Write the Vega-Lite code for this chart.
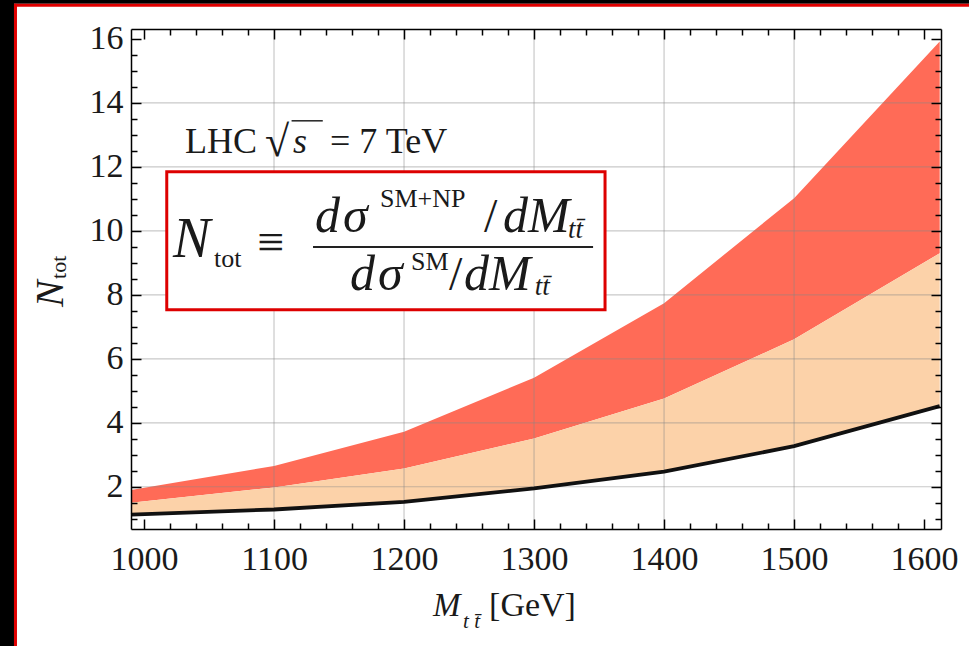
{
  "$schema": "https://vega.github.io/schema/vega-lite/v6.json",
  "width": 810,
  "height": 500,
  "autosize": {"type": "none"},
  "padding": {"left": 131, "top": 29, "right": 28, "bottom": 117},
  "background": "#ffffff",
  "config": {"view": {"stroke": null}, "font": "Liberation Serif"},
  "resolve": {"axis": {"x": "independent", "y": "independent"}},
  "datasets": {
    "curves": [
      {"M": 990, "sm": 1.13, "lo": 1.50, "hi": 1.90},
      {"M": 1100, "sm": 1.29, "lo": 1.98, "hi": 2.65},
      {"M": 1200, "sm": 1.53, "lo": 2.57, "hi": 3.72},
      {"M": 1300, "sm": 1.95, "lo": 3.51, "hi": 5.41},
      {"M": 1400, "sm": 2.47, "lo": 4.76, "hi": 7.74},
      {"M": 1500, "sm": 3.27, "lo": 6.61, "hi": 11.02},
      {"M": 1612, "sm": 4.52, "lo": 9.30, "hi": 15.92}
    ],
    "vgrid": [{"g": 1100}, {"g": 1200}, {"g": 1300}, {"g": 1400}, {"g": 1500}],
    "hgrid": [{"g": 2}, {"g": 4}, {"g": 6}, {"g": 8}, {"g": 10}, {"g": 12}, {"g": 14}],
    "fN": [{"t": "N", "x": 1022.3, "y": 9.185}],
    "fItalic": [
      {"t": "d", "x": 1131.5, "y": 9.977},
      {"t": "σ", "x": 1153.1, "y": 9.977},
      {"t": "dM", "x": 1276.2, "y": 9.977},
      {"t": "d", "x": 1158.5, "y": 8.153},
      {"t": "σ", "x": 1180.0, "y": 8.153},
      {"t": "dM", "x": 1246.2, "y": 8.153}
    ],
    "fUpright": [
      {"t": "≡", "x": 1086.9, "y": 9.154},
      {"t": "/", "x": 1261.5, "y": 9.977},
      {"t": "/", "x": 1234.6, "y": 8.153}
    ],
    "fSmall": [
      {"t": "tot", "x": 1053.8, "y": 8.873},
      {"t": "SM+NP", "x": 1181.5, "y": 10.759},
      {"t": "SM", "x": 1205.3, "y": 8.779}
    ],
    "fSmallItalic": [
      {"t": "tt̄", "x": 1326.2, "y": 9.78},
      {"t": "tt̄", "x": 1300.5, "y": 7.997}
    ],
    "lhc": [
      {"t": "LHC", "x": 1031.5, "y": 12.44},
      {"t": "= 7 TeV", "x": 1143.1, "y": 12.44}
    ],
    "lhcRoot": [{"t": "√", "x": 1093.1, "y": 12.35}],
    "lhcItalic": [{"t": "s", "x": 1114.6, "y": 12.44}],
    "xTitleItalic": [{"t": "M", "x": 1222.3, "y": -2.047}],
    "xTitleUpright": [{"t": "[GeV]", "x": 1265.4, "y": -2.047}],
    "xTitleSub": [{"t": "t t̄", "x": 1245.4, "y": -2.423}],
    "yTitleBig": [{"t": "N", "x": 937.7, "y": 7.621}],
    "yTitleSub": [{"t": "tot", "x": 940, "y": 8.496}]
  },
  "layer": [
    {
      "data": {"values": [{}]},
      "mark": {"type": "rect", "fill": "#000000"},
      "encoding": {
        "x": {"datum": 800, "type": "quantitative", "scale": {"domain": [990, 1613], "nice": false, "zero": false}, "axis": null},
        "x2": {"datum": 900},
        "y": {"datum": 20, "type": "quantitative", "scale": {"domain": [0.68, 16.31], "nice": false, "zero": false}, "axis": null},
        "y2": {"datum": -6}
      }
    },
    {
      "data": {"values": [{}]},
      "mark": {"type": "rect", "fill": "#000000"},
      "encoding": {
        "x": {"datum": 800, "type": "quantitative", "axis": null},
        "x2": {"datum": 1700},
        "y": {"datum": 20, "type": "quantitative", "axis": null},
        "y2": {"datum": 17.1016}
      }
    },
    {
      "data": {"values": [{}]},
      "mark": {"type": "rule", "color": "#e00000", "strokeWidth": 3},
      "encoding": {
        "x": {"datum": 901.15, "type": "quantitative", "axis": null},
        "y": {"datum": 17.1016, "type": "quantitative", "axis": null},
        "y2": {"datum": -6}
      }
    },
    {
      "data": {"values": [{}]},
      "mark": {"type": "rule", "color": "#e00000", "strokeWidth": 3},
      "encoding": {
        "x": {"datum": 900, "type": "quantitative", "axis": null},
        "x2": {"datum": 1700},
        "y": {"datum": 17.055, "type": "quantitative", "axis": null}
      }
    },
    {
      "data": {"name": "curves"},
      "mark": {"type": "area", "color": "#FF6B57"},
      "encoding": {
        "x": {"field": "M", "type": "quantitative", "scale": {"domain": [990, 1613], "nice": false, "zero": false},
          "axis": {"orient": "bottom", "values": [1000, 1100, 1200, 1300, 1400, 1500, 1600], "format": "d", "tickSize": -10, "tickWidth": 1.5, "tickColor": "#000", "domainColor": "#000", "domainWidth": 1.5, "labelFont": "Liberation Serif", "labelFontSize": 34, "labelColor": "#1a1a1a", "labelPadding": 23, "labelFlush": false, "labelOverlap": false, "grid": false, "title": null, "zindex": 1}},
        "y": {"field": "hi", "type": "quantitative", "scale": {"domain": [0.68, 16.31], "nice": false, "zero": false},
          "axis": {"orient": "left", "values": [2, 4, 6, 8, 10, 12, 14, 16], "format": "d", "tickSize": -10, "tickWidth": 1.5, "tickColor": "#000", "domainColor": "#000", "domainWidth": 1.5, "labelFont": "Liberation Serif", "labelFontSize": 34, "labelColor": "#1a1a1a", "labelPadding": 18, "labelFlush": false, "labelOverlap": false, "grid": false, "title": null, "zindex": 1}},
        "y2": {"field": "lo"}
      }
    },
    {
      "data": {"name": "curves"},
      "mark": {"type": "area", "color": "#FCD2A9"},
      "encoding": {
        "x": {"field": "M", "type": "quantitative", "scale": {"domain": [990, 1613], "nice": false, "zero": false},
          "axis": {"orient": "bottom", "values": [1020, 1040, 1060, 1080, 1120, 1140, 1160, 1180, 1220, 1240, 1260, 1280, 1320, 1340, 1360, 1380, 1420, 1440, 1460, 1480, 1520, 1540, 1560, 1580], "tickSize": -6, "tickWidth": 1.5, "tickColor": "#000", "domain": false, "labels": false, "grid": false, "title": null, "zindex": 1}},
        "y": {"field": "lo", "type": "quantitative", "scale": {"domain": [0.68, 16.31], "nice": false, "zero": false},
          "axis": {"orient": "left", "values": [1, 1.5, 2.5, 3, 3.5, 4.5, 5, 5.5, 6.5, 7, 7.5, 8.5, 9, 9.5, 10.5, 11, 11.5, 12.5, 13, 13.5, 14.5, 15, 15.5], "tickSize": -6, "tickWidth": 1.5, "tickColor": "#000", "domain": false, "labels": false, "grid": false, "title": null, "zindex": 1}},
        "y2": {"field": "sm"}
      }
    },
    {
      "data": {"name": "vgrid"},
      "mark": {"type": "rule", "color": "#888888", "opacity": 0.45, "strokeWidth": 1.2},
      "encoding": {
        "x": {"field": "g", "type": "quantitative", "scale": {"domain": [990, 1613], "nice": false, "zero": false},
          "axis": {"orient": "top", "values": [1000, 1100, 1200, 1300, 1400, 1500, 1600], "tickSize": -10, "tickWidth": 1.5, "tickColor": "#000", "domainColor": "#000", "domainWidth": 1.5, "labels": false, "grid": false, "title": null, "zindex": 1}}
      }
    },
    {
      "data": {"name": "hgrid"},
      "mark": {"type": "rule", "color": "#888888", "opacity": 0.45, "strokeWidth": 1.2},
      "encoding": {
        "y": {"field": "g", "type": "quantitative", "scale": {"domain": [0.68, 16.31], "nice": false, "zero": false},
          "axis": {"orient": "right", "values": [2, 4, 6, 8, 10, 12, 14, 16], "tickSize": -10, "tickWidth": 1.5, "tickColor": "#000", "domainColor": "#000", "domainWidth": 1.5, "labels": false, "grid": false, "title": null, "zindex": 1}}
      }
    },
    {
      "data": {"name": "curves"},
      "mark": {"type": "line", "color": "#111111", "strokeWidth": 3.8},
      "encoding": {
        "x": {"field": "M", "type": "quantitative", "scale": {"domain": [990, 1613], "nice": false, "zero": false},
          "axis": {"orient": "top", "values": [1020, 1040, 1060, 1080, 1120, 1140, 1160, 1180, 1220, 1240, 1260, 1280, 1320, 1340, 1360, 1380, 1420, 1440, 1460, 1480, 1520, 1540, 1560, 1580], "tickSize": -6, "tickWidth": 1.5, "tickColor": "#000", "domain": false, "labels": false, "grid": false, "title": null, "zindex": 1}},
        "y": {"field": "sm", "type": "quantitative", "scale": {"domain": [0.68, 16.31], "nice": false, "zero": false},
          "axis": {"orient": "right", "values": [1, 1.5, 2.5, 3, 3.5, 4.5, 5, 5.5, 6.5, 7, 7.5, 8.5, 9, 9.5, 10.5, 11, 11.5, 12.5, 13, 13.5, 14.5, 15, 15.5], "tickSize": -6, "tickWidth": 1.5, "tickColor": "#000", "domain": false, "labels": false, "grid": false, "title": null, "zindex": 1}}
      }
    },
    {
      "data": {"values": [{}]},
      "mark": {"type": "rect", "fill": "#ffffff", "stroke": "#dd0000", "strokeWidth": 3},
      "encoding": {
        "x": {"datum": 1017.5, "type": "quantitative", "axis": null},
        "x2": {"datum": 1354.6},
        "y": {"datum": 11.85, "type": "quantitative", "axis": null},
        "y2": {"datum": 7.53}
      }
    },
    {
      "data": {"values": [{}]},
      "mark": {"type": "rule", "color": "#222222", "strokeWidth": 2},
      "encoding": {
        "x": {"datum": 1130, "type": "quantitative", "axis": null},
        "x2": {"datum": 1345.4},
        "y": {"datum": 9.498, "type": "quantitative", "axis": null}
      }
    },
    {
      "data": {"values": [{}]},
      "mark": {"type": "rule", "color": "#222222", "strokeWidth": 1.5},
      "encoding": {
        "x": {"datum": 1113.5, "type": "quantitative", "axis": null},
        "x2": {"datum": 1137.5},
        "y": {"datum": 13.44, "type": "quantitative", "axis": null}
      }
    },
    {
      "data": {"name": "fN"},
      "mark": {"type": "text", "font": "Liberation Serif", "fontStyle": "italic", "fontSize": 56, "align": "left", "baseline": "alphabetic", "color": "#1a1a1a"},
      "encoding": {
        "x": {"field": "x", "type": "quantitative", "axis": null},
        "y": {"field": "y", "type": "quantitative", "axis": null},
        "text": {"field": "t"}
      }
    },
    {
      "data": {"name": "fItalic"},
      "mark": {"type": "text", "font": "Liberation Serif", "fontStyle": "italic", "fontSize": 50, "align": "left", "baseline": "alphabetic", "color": "#1a1a1a"},
      "encoding": {
        "x": {"field": "x", "type": "quantitative", "axis": null},
        "y": {"field": "y", "type": "quantitative", "axis": null},
        "text": {"field": "t"}
      }
    },
    {
      "data": {"name": "fUpright"},
      "mark": {"type": "text", "font": "Liberation Serif", "fontSize": 48, "align": "left", "baseline": "alphabetic", "color": "#1a1a1a"},
      "encoding": {
        "x": {"field": "x", "type": "quantitative", "axis": null},
        "y": {"field": "y", "type": "quantitative", "axis": null},
        "text": {"field": "t"}
      }
    },
    {
      "data": {"name": "fSmall"},
      "mark": {"type": "text", "font": "Liberation Serif", "fontSize": 26, "align": "left", "baseline": "alphabetic", "color": "#1a1a1a"},
      "encoding": {
        "x": {"field": "x", "type": "quantitative", "axis": null},
        "y": {"field": "y", "type": "quantitative", "axis": null},
        "text": {"field": "t"}
      }
    },
    {
      "data": {"name": "fSmallItalic"},
      "mark": {"type": "text", "font": "Liberation Serif", "fontStyle": "italic", "fontSize": 27, "align": "left", "baseline": "alphabetic", "color": "#1a1a1a"},
      "encoding": {
        "x": {"field": "x", "type": "quantitative", "axis": null},
        "y": {"field": "y", "type": "quantitative", "axis": null},
        "text": {"field": "t"}
      }
    },
    {
      "data": {"name": "lhc"},
      "mark": {"type": "text", "font": "Liberation Serif", "fontSize": 36, "align": "left", "baseline": "alphabetic", "color": "#1a1a1a"},
      "encoding": {
        "x": {"field": "x", "type": "quantitative", "axis": null},
        "y": {"field": "y", "type": "quantitative", "axis": null},
        "text": {"field": "t"}
      }
    },
    {
      "data": {"name": "lhcRoot"},
      "mark": {"type": "text", "font": "Liberation Serif", "fontSize": 44, "align": "left", "baseline": "alphabetic", "color": "#1a1a1a"},
      "encoding": {
        "x": {"field": "x", "type": "quantitative", "axis": null},
        "y": {"field": "y", "type": "quantitative", "axis": null},
        "text": {"field": "t"}
      }
    },
    {
      "data": {"name": "lhcItalic"},
      "mark": {"type": "text", "font": "Liberation Serif", "fontStyle": "italic", "fontSize": 36, "align": "left", "baseline": "alphabetic", "color": "#1a1a1a"},
      "encoding": {
        "x": {"field": "x", "type": "quantitative", "axis": null},
        "y": {"field": "y", "type": "quantitative", "axis": null},
        "text": {"field": "t"}
      }
    },
    {
      "data": {"name": "xTitleItalic"},
      "mark": {"type": "text", "font": "Liberation Serif", "fontStyle": "italic", "fontSize": 33, "align": "left", "baseline": "alphabetic", "color": "#1a1a1a"},
      "encoding": {
        "x": {"field": "x", "type": "quantitative", "axis": null},
        "y": {"field": "y", "type": "quantitative", "axis": null},
        "text": {"field": "t"}
      }
    },
    {
      "data": {"name": "xTitleUpright"},
      "mark": {"type": "text", "font": "Liberation Serif", "fontSize": 34, "align": "left", "baseline": "alphabetic", "color": "#1a1a1a"},
      "encoding": {
        "x": {"field": "x", "type": "quantitative", "axis": null},
        "y": {"field": "y", "type": "quantitative", "axis": null},
        "text": {"field": "t"}
      }
    },
    {
      "data": {"name": "xTitleSub"},
      "mark": {"type": "text", "font": "Liberation Serif", "fontStyle": "italic", "fontSize": 21, "align": "left", "baseline": "alphabetic", "color": "#1a1a1a"},
      "encoding": {
        "x": {"field": "x", "type": "quantitative", "axis": null},
        "y": {"field": "y", "type": "quantitative", "axis": null},
        "text": {"field": "t"}
      }
    },
    {
      "data": {"name": "yTitleBig"},
      "mark": {"type": "text", "font": "Liberation Serif", "fontStyle": "italic", "fontSize": 40, "angle": 270, "align": "left", "baseline": "alphabetic", "color": "#1a1a1a"},
      "encoding": {
        "x": {"field": "x", "type": "quantitative", "axis": null},
        "y": {"field": "y", "type": "quantitative", "axis": null},
        "text": {"field": "t"}
      }
    },
    {
      "data": {"name": "yTitleSub"},
      "mark": {"type": "text", "font": "Liberation Serif", "fontSize": 22, "angle": 270, "align": "left", "baseline": "alphabetic", "color": "#1a1a1a"},
      "encoding": {
        "x": {"field": "x", "type": "quantitative", "axis": null},
        "y": {"field": "y", "type": "quantitative", "axis": null},
        "text": {"field": "t"}
      }
    }
  ]
}
